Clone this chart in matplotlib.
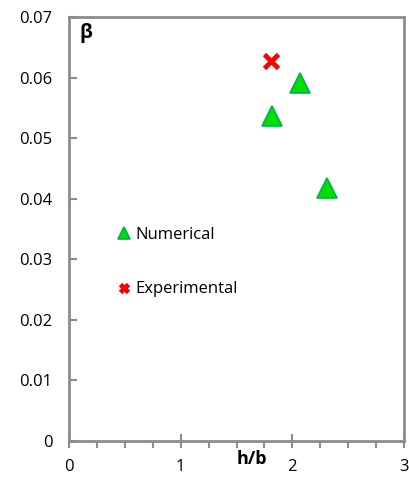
import matplotlib.pyplot as plt
from matplotlib.ticker import MultipleLocator

plt.rcParams['font.family'] = ['Open Sans', 'DejaVu Sans']

# data
num_x = [1.82, 2.07, 2.31]
num_y = [0.0536, 0.0591, 0.0417]
exp_x = [1.81]
exp_y = [0.0628]

x_ticks = [0, 1, 2, 3]
x_labels = ['0', '1', '2', '3']
y_ticks = [0, 0.01, 0.02, 0.03, 0.04, 0.05, 0.06, 0.07]
y_labels = ['0', '0.01', '0.02', '0.03', '0.04', '0.05', '0.06', '0.07']

fig = plt.figure(figsize=(4.09, 4.79), dpi=100)
ax = fig.add_axes([0.1687, 0.0793, 0.8191, 0.8852])

ax.plot(num_x, num_y, linestyle='none', marker='^', markersize=15,
        markerfacecolor='#00e000', markeredgecolor='#00b050', markeredgewidth=1.2,
        label='Numerical')
ax.plot(exp_x, exp_y, linestyle='none', marker='x', markersize=10,
        markeredgecolor='#ff0000', markeredgewidth=3.5, label='Experimental')

ax.set_xticks(x_ticks, x_labels)
ax.set_yticks(y_ticks, y_labels)
ax.xaxis.set_minor_locator(MultipleLocator(0.25))
ax.set_xlim(0, 3)
ax.set_ylim(0, 0.07)

for s in ax.spines.values():
    s.set_color('#8c8c8c')
    s.set_linewidth(2)

ax.tick_params(axis='x', which='major', direction='inout', length=10, width=1.5,
               color='#8c8c8c', pad=8, labelsize=12)
ax.tick_params(axis='x', which='minor', direction='out', length=5, width=1.5,
               color='#8c8c8c')
ax.tick_params(axis='y', which='major', direction='in', length=6, width=1.5,
               color='#8c8c8c', pad=12, labelsize=12)

ax.text(0.03, 0.985, 'β', transform=ax.transAxes, fontsize=14, fontweight='bold',
        ha='left', va='top')
ax.text(0.545, -0.022, 'h/b', transform=ax.transAxes, fontsize=13, fontweight='bold',
        ha='center', va='top')

leg = ax.legend(loc='upper left', bbox_to_anchor=(0.105, 0.54), frameon=False,
                fontsize=12, labelspacing=2.3, handlelength=0.6, handletextpad=0.4,
                markerscale=0.6)

fig.savefig('out.png', dpi=100)
